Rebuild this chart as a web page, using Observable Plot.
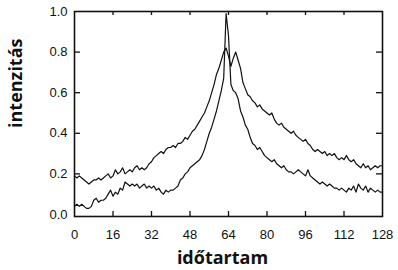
<!DOCTYPE html>
<html><head><meta charset="utf-8">
<script src="https://cdn.jsdelivr.net/npm/d3@7"></script>
<script src="https://cdn.jsdelivr.net/npm/@observablehq/plot@0.6"></script>
<style>html,body{margin:0;padding:0;background:#fff}</style>
</head><body><div id="chart"></div>
<script>
const xTicks = [0, 16, 32, 48, 64, 80, 96, 112, 128];
const yTicks = [0, 0.2, 0.4, 0.6, 0.8, 1.0];
const xLabel = "időtartam";
const yLabel = "intenzitás";

const upper = [
  0.19,0.18,0.19,0.18,0.17,0.16,0.15,0.16,0.17,0.17,
  0.18,0.17,0.18,0.19,0.20,0.18,0.19,0.22,0.20,0.21,
  0.23,0.20,0.21,0.22,0.21,0.23,0.24,0.22,0.23,0.22,
  0.23,0.25,0.26,0.28,0.29,0.30,0.31,0.30,0.32,0.33,
  0.33,0.34,0.33,0.35,0.35,0.36,0.38,0.37,0.39,0.41,
  0.42,0.44,0.46,0.48,0.50,0.53,0.56,0.60,0.64,0.69,
  0.72,0.76,0.80,0.82,0.78,0.73,0.77,0.80,0.76,0.72,
  0.65,0.62,0.59,0.58,0.56,0.55,0.53,0.54,0.52,0.51,
  0.50,0.49,0.50,0.47,0.45,0.44,0.45,0.43,0.42,0.41,
  0.40,0.41,0.39,0.38,0.37,0.36,0.37,0.35,0.34,0.32,
  0.31,0.32,0.31,0.30,0.31,0.29,0.30,0.29,0.30,0.28,
  0.27,0.28,0.27,0.29,0.27,0.26,0.27,0.25,0.24,0.23,
  0.25,0.23,0.24,0.22,0.23,0.24,0.23,0.24,0.24
];
const lower = [
  0.04,0.05,0.04,0.05,0.04,0.03,0.03,0.04,0.07,0.08,
  0.06,0.07,0.07,0.08,0.10,0.12,0.09,0.11,0.10,0.13,
  0.12,0.16,0.15,0.14,0.15,0.14,0.15,0.13,0.14,0.15,
  0.13,0.14,0.13,0.14,0.12,0.13,0.11,0.10,0.12,0.11,
  0.12,0.12,0.13,0.14,0.17,0.18,0.20,0.21,0.23,0.24,
  0.25,0.26,0.27,0.29,0.32,0.36,0.40,0.43,0.47,0.51,
  0.56,0.61,0.67,0.99,0.88,0.64,0.61,0.60,0.57,0.51,
  0.48,0.44,0.42,0.38,0.35,0.34,0.32,0.33,0.31,0.29,
  0.28,0.27,0.26,0.27,0.25,0.24,0.23,0.24,0.22,0.21,
  0.21,0.20,0.21,0.22,0.21,0.20,0.19,0.22,0.19,0.18,
  0.17,0.16,0.15,0.16,0.15,0.14,0.15,0.14,0.13,0.13,
  0.12,0.13,0.12,0.11,0.13,0.12,0.14,0.11,0.15,0.13,
  0.12,0.14,0.11,0.13,0.12,0.11,0.12,0.11,0.11
];

const data = [];
upper.forEach((v, i) => data.push({t: i, v, series: "upper"}));
lower.forEach((v, i) => data.push({t: i, v, series: "lower"}));

const inner = xTicks.slice(1, -1);
const innerY = yTicks.slice(1, -1);
const ink = "#111";

const chart = Plot.plot({
  width: 398, height: 270,
  marginLeft: 74, marginRight: 16, marginTop: 11, marginBottom: 54,
  x: {domain: [0, 128], label: null},
  y: {domain: [-0.01, 1.0], label: null},
  style: {fontFamily: "Liberation Sans, sans-serif", fontSize: "13px", color: ink, background: "#fff"},
  marks: [
    Plot.axisX(xTicks, {tickSize: 0, tickPadding: 13, tickFormat: d => String(d), fontSize: 13, label: null}),
    Plot.axisY(yTicks, {tickSize: 0, tickPadding: 7, tickFormat: d => d.toFixed(1), fontSize: 13, label: null}),
    Plot.ruleX(inner, {x: d => d, insetTop: 200, stroke: ink, strokeWidth: 1.3}),
    Plot.ruleX(inner, {x: d => d, insetBottom: 201, stroke: ink, strokeWidth: 1.3}),
    Plot.ruleY(innerY, {y: d => d, insetRight: 302, stroke: ink, strokeWidth: 1.3}),
    Plot.ruleY(innerY, {y: d => d, insetLeft: 302, stroke: ink, strokeWidth: 1.3}),
    Plot.frame({stroke: ink, strokeWidth: 1.6}),
    Plot.line(data, {x: "t", y: "v", z: "series", stroke: ink, strokeWidth: 1.2}),
    Plot.text([xLabel], {text: d => d, frameAnchor: "bottom", dx: -6, dy: 47, fontSize: 18, fontWeight: "bold", fontFamily: "Open Sans", fill: ink}),
    Plot.text([yLabel], {text: d => d, frameAnchor: "left", dx: -58, dy: 14, rotate: -90, fontSize: 18, fontWeight: "bold", fontFamily: "Open Sans", fill: ink})
  ]
});
document.getElementById("chart").appendChild(chart);
</script>
</body></html>
